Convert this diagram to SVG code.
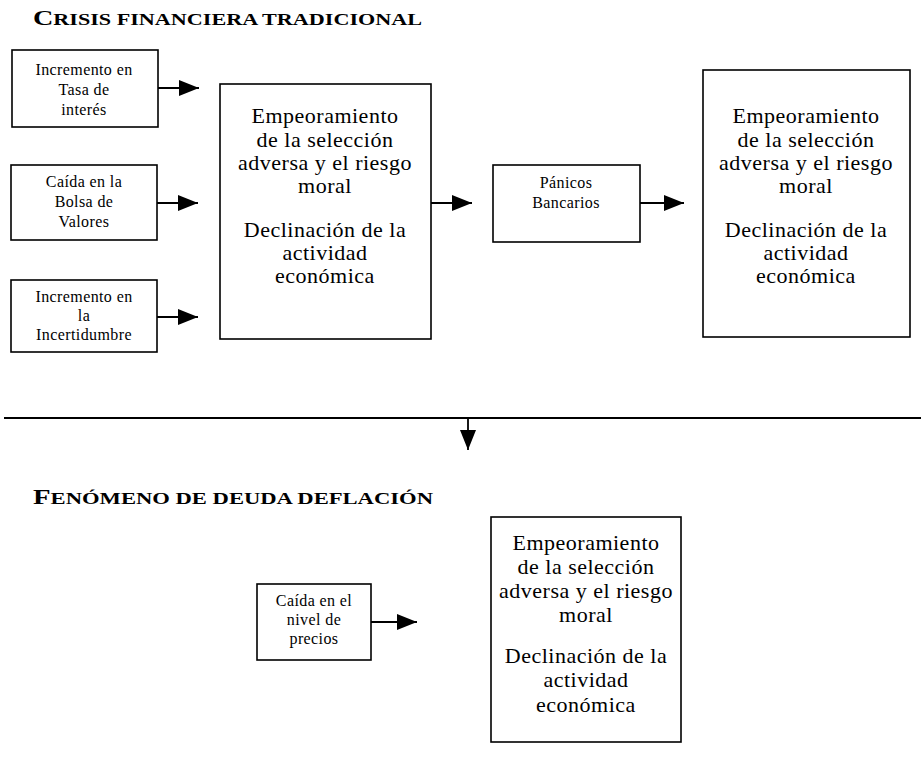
<svg xmlns="http://www.w3.org/2000/svg" width="921" height="757" viewBox="0 0 921 757">
<style>
.box{fill:#fff;stroke:#000;stroke-width:1.6}
text{font-family:"Liberation Serif","Times New Roman","DejaVu Serif",serif;fill:#000}
.sm{font-size:16px;letter-spacing:0.4px;text-anchor:middle}
.bg{font-size:22px;letter-spacing:0.5px;text-anchor:middle}
.ttl{font-weight:bold}
.ln{stroke:#000;stroke-width:1.8;fill:none}
</style>
<defs>
<marker id="ahb" viewBox="0 0 20 16" refX="20" refY="8" markerWidth="20" markerHeight="16" markerUnits="userSpaceOnUse" orient="auto">
<path d="M0,0 L20,8 L0,16 z" fill="#000"/>
</marker>
</defs>
<text class="ttl" x="33" y="25" textLength="389" lengthAdjust="spacingAndGlyphs"><tspan font-size="21">C</tspan><tspan font-size="16.5">RISIS FINANCIERA TRADICIONAL</tspan></text>
<text class="ttl" x="33" y="504" textLength="400" lengthAdjust="spacingAndGlyphs"><tspan font-size="21">F</tspan><tspan font-size="16.5">ENÓMENO DE DEUDA DEFLACIÓN</tspan></text>

<g id="n_tasa"><rect class="box" x="12" y="50" width="146" height="77"/>
<text class="sm" x="84" y="75">Incremento en</text><text class="sm" x="84" y="95">Tasa de</text><text class="sm" x="84" y="115">interés</text></g>
<g id="n_bolsa"><rect class="box" x="11" y="165" width="146" height="75"/>
<text class="sm" x="84" y="187">Caída en la</text><text class="sm" x="84" y="207">Bolsa de</text><text class="sm" x="84" y="227">Valores</text></g>
<g id="n_incert"><rect class="box" x="11" y="280" width="146" height="72"/>
<text class="sm" x="84" y="302">Incremento en</text><text class="sm" x="84" y="321">la</text><text class="sm" x="84" y="340">Incertidumbre</text></g>

<g id="n_emp1"><rect class="box" x="220" y="84" width="211" height="255"/>
<text class="bg" x="325" y="123">Empeoramiento</text><text class="bg" x="325" y="147">de la selección</text><text class="bg" x="325" y="170">adversa y el riesgo</text><text class="bg" x="325" y="193">moral</text>
<text class="bg" x="325" y="237">Declinación de la</text><text class="bg" x="325" y="260">actividad</text><text class="bg" x="325" y="283">económica</text></g>

<g id="n_panicos"><rect class="box" x="493" y="165" width="147" height="77"/>
<text class="sm" x="566" y="188">Pánicos</text><text class="sm" x="566" y="208">Bancarios</text></g>

<g id="n_emp2"><rect class="box" x="703" y="70" width="207" height="267"/>
<text class="bg" x="806" y="123">Empeoramiento</text><text class="bg" x="806" y="147">de la selección</text><text class="bg" x="806" y="170">adversa y el riesgo</text><text class="bg" x="806" y="193">moral</text>
<text class="bg" x="806" y="237">Declinación de la</text><text class="bg" x="806" y="260">actividad</text><text class="bg" x="806" y="283">económica</text></g>

<g id="n_precios"><rect class="box" x="257" y="584" width="114" height="76"/>
<text class="sm" x="314" y="606">Caída en el</text><text class="sm" x="314" y="625">nivel de</text><text class="sm" x="314" y="644">precios</text></g>

<g id="n_emp3"><rect class="box" x="491" y="517" width="190" height="225"/>
<text class="bg" x="586" y="550">Empeoramiento</text><text class="bg" x="586" y="574">de la selección</text><text class="bg" x="586" y="598">adversa y el riesgo</text><text class="bg" x="586" y="622">moral</text>
<text class="bg" x="586" y="663">Declinación de la</text><text class="bg" x="586" y="687">actividad</text><text class="bg" x="586" y="712">económica</text></g>

<g id="connectors">
<line class="ln" x1="158" y1="88" x2="199" y2="88" marker-end="url(#ahb)"/>
<line class="ln" x1="157" y1="203" x2="198" y2="203" marker-end="url(#ahb)"/>
<line class="ln" x1="157" y1="317" x2="198" y2="317" marker-end="url(#ahb)"/>
<line class="ln" x1="431" y1="203" x2="472" y2="203" marker-end="url(#ahb)"/>
<line class="ln" x1="640" y1="203" x2="684" y2="203" marker-end="url(#ahb)"/>
<line class="ln" x1="4" y1="418" x2="921" y2="418"/>
<line class="ln" x1="468" y1="418" x2="468" y2="450" marker-end="url(#ahb)"/>
<line class="ln" x1="371" y1="622" x2="417" y2="622" marker-end="url(#ahb)"/>
</g>
</svg>
